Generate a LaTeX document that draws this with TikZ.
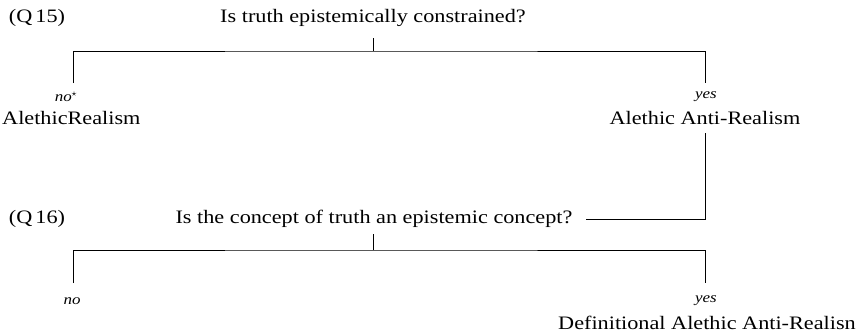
\documentclass[tikz,border=0pt]{standalone}
\usepackage{fontspec}
\setmainfont[FakeStretch=1.17]{Liberation Serif}
\begin{document}
\begin{tikzpicture}[x=1pt,y=-1pt,
  txt/.style={inner sep=0pt,font=\fontsize{19}{22}\selectfont},
  ans/.style={inner sep=0pt,font=\fontsize{14.5}{17}\selectfont\itshape},
  conn/.style={draw=black,line width=0.9pt}]
\useasboundingbox (0,0) rectangle (857,335);
% Q15
\node[txt] (q15) at (37,18) {(Q\,15)};
\node[txt] (q1) at (373,18) {Is truth epistemically constrained?};
\coordinate (s1) at (373,38);
\coordinate (j1) at (373,51);
\coordinate (l1) at (73,83);
\coordinate (r1) at (705,83);
\draw[conn] (s1) -- (j1);
\draw[conn] (l1) |- (j1) -| (r1);
\node[ans] (no1) at (66,97) {no\textsuperscript{\upshape$\star$}};
\node[txt,anchor=west] (ar) at (2,118) {AlethicRealism};
\node[ans] (yes1) at (706,97) {yes};
\node[txt] (aar) at (705,118) {Alethic Anti-Realism};
\coordinate (r2top) at (705,133);
\coordinate (r2end) at (586,219);
\draw[conn] (r2top) |- (r2end);
% Q16
\node[txt] (q16) at (37,219) {(Q\,16)};
\node[txt] (q2) at (374,219) {Is the concept of truth an epistemic concept?};
\coordinate (s2) at (373,234);
\coordinate (j2) at (373,250);
\coordinate (l2) at (73,283);
\coordinate (r3) at (705,283);
\draw[conn] (s2) -- (j2);
\draw[conn] (l2) |- (j2) -| (r3);
\node[ans] (no2) at (72,301) {no};
\node[ans] (yes2) at (706,301) {yes};
\node[txt] (daar) at (707,323) {Definitional Alethic Anti-Realisn};
\end{tikzpicture}
\end{document}
